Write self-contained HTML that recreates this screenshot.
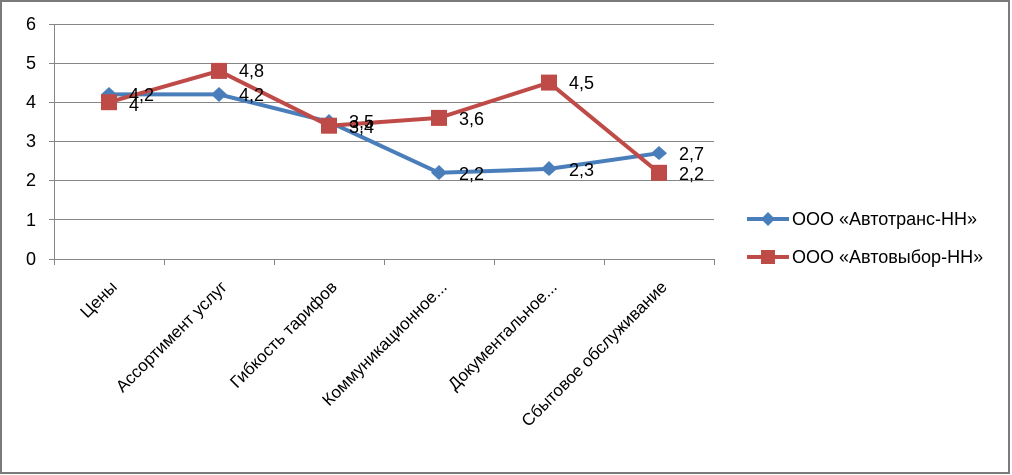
<!DOCTYPE html>
<html><head><meta charset="utf-8"><style>
html,body{margin:0;padding:0;background:#fff}
svg{display:block;font-family:"Liberation Sans","DejaVu Sans",sans-serif}
</style></head><body>
<svg width="1012" height="475" xmlns="http://www.w3.org/2000/svg">
<rect x="1" y="1" width="1008" height="472" fill="#fff" stroke="#7a7a7a" stroke-width="2"/>
<g stroke="#868686" stroke-width="1">
<line x1="49" y1="24.5" x2="714" y2="24.5"/>
<line x1="49" y1="63.5" x2="714" y2="63.5"/>
<line x1="49" y1="102.5" x2="714" y2="102.5"/>
<line x1="49" y1="141.5" x2="714" y2="141.5"/>
<line x1="49" y1="180.5" x2="714" y2="180.5"/>
<line x1="49" y1="219.5" x2="714" y2="219.5"/>
<line x1="49" y1="259.5" x2="714" y2="259.5"/>
<line x1="54.5" y1="24" x2="54.5" y2="265"/>
<line x1="164.5" y1="259" x2="164.5" y2="265"/>
<line x1="274.5" y1="259" x2="274.5" y2="265"/>
<line x1="384.5" y1="259" x2="384.5" y2="265"/>
<line x1="494.5" y1="259" x2="494.5" y2="265"/>
<line x1="604.5" y1="259" x2="604.5" y2="265"/>
<line x1="714.5" y1="259" x2="714.5" y2="265"/>
</g>
<g font-size="18" fill="#000" text-anchor="end">
<text x="36" y="30">6</text><text x="36" y="69">5</text><text x="36" y="108">4</text>
<text x="36" y="147">3</text><text x="36" y="186">2</text><text x="36" y="226">1</text><text x="36" y="265">0</text>
</g>
<g font-size="17" fill="#000" text-anchor="end">
<text transform="translate(118,288) rotate(-45)">Цены</text>
<text transform="translate(228,288) rotate(-45)">Ассортимент услуг</text>
<text transform="translate(338,288) rotate(-45)">Гибкость тарифов</text>
<text transform="translate(448,288) rotate(-45)">Коммуникационное...</text>
<text transform="translate(558,288) rotate(-45)">Документальное...</text>
<text transform="translate(668,288) rotate(-45)">Сбытовое обслуживание</text>
</g>
<polyline points="109,94.4 219,94.4 329,121.8 439,172.8 549,168.9 659,153.2" fill="none" stroke="#4a7ebb" stroke-width="4" stroke-linejoin="round"/>
<g fill="#4a7ebb">
<polygon points="109,87 117,94.4 109,102 101,94.4"/>
<polygon points="219,87 227,94.4 219,102 211,94.4"/>
<polygon points="329,114 337,121.8 329,129 321,121.8"/>
<polygon points="439,165 447,172.8 439,180 431,172.8"/>
<polygon points="549,161 557,168.9 549,176 541,168.9"/>
<polygon points="659,146 667,153.2 659,160 651,153.2"/>
</g>
<polyline points="109,102.2 219,70.9 329,125.7 439,117.9 549,82.6 659,172.8" fill="none" stroke="#be4b48" stroke-width="4" stroke-linejoin="round"/>
<g fill="#be4b48">
<rect x="101" y="94.2" width="16" height="16"/><rect x="211" y="62.9" width="16" height="16"/>
<rect x="321" y="117.7" width="16" height="16"/><rect x="431" y="109.9" width="16" height="16"/>
<rect x="541" y="74.6" width="16" height="16"/><rect x="651" y="164.8" width="16" height="16"/>
</g>
<g font-size="18" fill="#000">
<text x="129" y="101">4,2</text><text x="129" y="111">4</text>
<text x="239" y="77">4,8</text><text x="239" y="101">4,2</text>
<text x="349" y="128">3,5</text><text x="349" y="133">3,4</text>
<text x="459" y="125">3,6</text><text x="459" y="180">2,2</text>
<text x="569" y="89">4,5</text><text x="569" y="176">2,3</text>
<text x="679" y="160">2,7</text><text x="679" y="180">2,2</text>
</g>
<line x1="747" y1="219" x2="789" y2="219" stroke="#4a7ebb" stroke-width="4"/>
<polygon points="768,212 775,219 768,226 761,219" fill="#4a7ebb"/>
<line x1="747" y1="257" x2="789" y2="257" stroke="#be4b48" stroke-width="4"/>
<rect x="761" y="250" width="14" height="14" fill="#be4b48"/>
<g font-size="18" fill="#000">
<text x="792" y="225">ООО «Автотранс-НН»</text>
<text x="792" y="263">ООО «Автовыбор-НН»</text>
</g>
</svg>
</body></html>
